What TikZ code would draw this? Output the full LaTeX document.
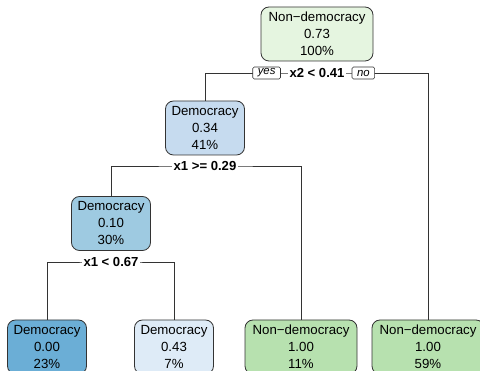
\documentclass[tikz,border=0pt]{standalone}
\usepackage{fontspec}
\setmainfont{Liberation Sans}
\usepackage{tikz}
\usetikzlibrary{positioning}
\usepackage{xcolor}
\definecolor{rootgreen}{HTML}{E5F5E0}
\definecolor{leafgreen}{HTML}{B7E1AF}
\definecolor{blueA}{HTML}{C6DBEF}
\definecolor{blueB}{HTML}{9ECAE1}
\definecolor{blueC}{HTML}{6BAED6}
\definecolor{blueD}{HTML}{DEEBF7}
\definecolor{edgegray}{HTML}{333333}

\begin{document}
\begin{tikzpicture}[
  x=1pt, y=-1pt,
  treenode/.style={draw=edgegray, line width=0.8pt, rounded corners=8pt,
    minimum height=54pt, inner sep=0pt, align=center,
    font=\fontsize{13.25}{17}\selectfont},
  dem/.style={treenode, minimum width=79pt},
  nondem/.style={treenode, minimum width=112pt},
  split/.style={fill=white, inner sep=1.5pt, font=\fontsize{13.1}{15}\selectfont\bfseries},
  side/.style={draw=edgegray, line width=0.6pt, rounded corners=1.5pt, fill=white,
    inner xsep=5pt, inner ysep=0pt, minimum height=12pt,
    font=\fontsize{11.4}{12}\selectfont\itshape},
  edge/.style={edgegray, line width=0.6pt}
]
  \useasboundingbox (0,0) rectangle (480,371);

  % --- inner nodes ---
  \node[nondem, fill=rootgreen] (root) at (317, 34) {Non−democracy\\0.73\\100\%};
  \node[dem, fill=blueA] (n2) at (205, 128) {Democracy\\0.34\\41\%};
  \node[dem, fill=blueB] (n4) at (111, 223.5) {Democracy\\0.10\\30\%};

  % --- leaves ---
  \node[dem, fill=blueC] (leaf1) at (47, 347) {Democracy\\0.00\\23\%};
  \node[dem, fill=blueD] (leaf2) at (174, 347) {Democracy\\0.43\\7\%};
  \node[nondem, fill=leafgreen] (leaf3) at (301, 347) {Non−democracy\\1.00\\11\%};
  \node[nondem, fill=leafgreen] (leaf4) at (428, 347) {Non−democracy\\1.00\\59\%};

  % --- split points ---
  \coordinate (s1) at (317, 73);
  \coordinate (s2) at (205, 166);
  \coordinate (s3) at (111, 262);

  % Branches
  \draw[edge] (n2.north) |- (s1) -| (leaf4.north);
  \draw[edge] (n4.north) |- (s2) -| (leaf3.north);
  \draw[edge] (leaf1.north) |- (s3) -| (leaf2.north);

  % Split labels
  \node[split] (c1) at (s1) {x2 < 0.41};
  \node[split] (c2) at (s2) {x1 >= 0.29};
  \node[split] (c3) at (s3) {x1 < 0.67};
  \node[side, left=7pt of c1] (yes) {yes};
  \node[side, right=5.5pt of c1] (no) {no};
\end{tikzpicture}
\end{document}
